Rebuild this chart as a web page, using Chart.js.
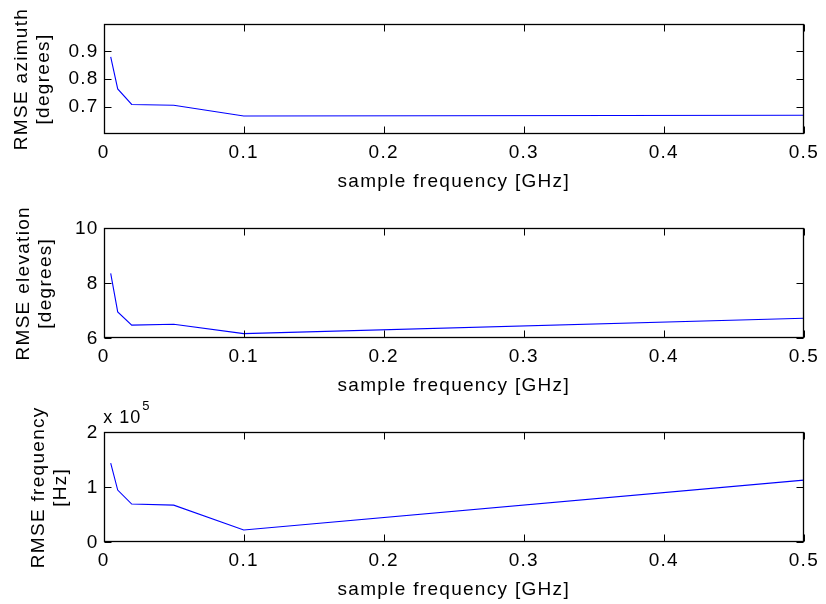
<!DOCTYPE html>
<html><head><meta charset="utf-8">
<script src="https://cdn.jsdelivr.net/npm/chart.js@4.4.0/dist/chart.umd.min.js"></script>
<style>
html,body{margin:0;padding:0;background:#fff;}
#wrap{position:relative;width:826px;height:604px;background:#fff;}
canvas{position:absolute;left:0;top:0;}
</style></head><body>
<div id="wrap">
<canvas id="c1" width="826" height="604"></canvas>
<canvas id="c2" width="826" height="604"></canvas>
<canvas id="c3" width="826" height="604"></canvas>
</div>
<script>
// ---- data ----
const sampleFreqGHz   = [0.005, 0.01, 0.02, 0.05, 0.1, 0.5];
const rmseAzimuthDeg  = [0.880, 0.764, 0.708, 0.705, 0.666, 0.669];
const rmseElevationDeg= [8.36, 6.96, 6.48, 6.51, 6.17, 6.73];
const rmseFrequencyHz = [1.44e5, 0.95e5, 0.695e5, 0.676e5, 0.224e5, 1.13e5];
const xTickValues     = [0, 0.1, 0.2, 0.3, 0.4, 0.5];
const azTickValues    = [0.7, 0.8, 0.9];
const elTickValues    = [6, 8, 10];
const frTickValues    = [0, 1e5, 2e5];
const xTitle          = 'sample frequency [GHz]';
const azTitle         = ['RMSE azimuth', '[degrees]'];
const elTitle         = ['RMSE elevation', '[degrees]'];
const frTitle         = ['RMSE frequency', '[Hz]'];

const FONT = "'Liberation Sans', Arial, Helvetica, sans-serif";
const LS = '1.3px';

const spacingPlugin = {
  id: 'spacing',
  beforeUpdate(c){ c.ctx.letterSpacing = LS; },
  beforeLayout(c){ c.ctx.letterSpacing = LS; },
  beforeDraw(c){ c.ctx.letterSpacing = LS; }
};

const boxPlugin = {
  id: 'box',
  afterDraw(c, args, opts){
    const ctx = c.ctx, a = c.chartArea;
    const L = Math.round(a.left)+0.5, R = Math.round(a.right)-0.5;
    const T = Math.round(a.top)+0.5, B = Math.round(a.bottom)-0.5;
    ctx.save();
    ctx.strokeStyle = '#000'; ctx.lineWidth = 1;
    ctx.beginPath();
    const xs = c.scales.x, ys = c.scales.y;
    xs.ticks.forEach(t => {
      const p = Math.round(xs.getPixelForValue(t.value))+0.5;
      ctx.moveTo(p, B); ctx.lineTo(p, B-7);
      ctx.moveTo(p, T); ctx.lineTo(p, T+7);
    });
    ys.ticks.forEach(t => {
      const p = Math.round(ys.getPixelForValue(t.value))+0.5;
      ctx.moveTo(L, p); ctx.lineTo(L+7, p);
      ctx.moveTo(R, p); ctx.lineTo(R-7, p);
    });
    ctx.stroke();
    ctx.lineWidth = 1.3;
    ctx.strokeRect(L, T, R-L, B-T);
    if (opts && opts.exponent) {
      ctx.fillStyle = '#000';
      ctx.letterSpacing = '1px';
      ctx.textBaseline = 'alphabetic';
      ctx.textAlign = 'left';
      ctx.font = '18px ' + FONT;
      const base = 'x 10';
      ctx.fillText(base, a.left - 0.5, a.top - 9);
      const w = ctx.measureText(base).width;
      ctx.font = '13px ' + FONT;
      ctx.fillText(opts.exponent, a.left - 0.5 + w + 1, a.top - 22);
    }
    ctx.restore();
  }
};

function makeChart(id, values, yMin, yMax, yTicks, yTitle, plotTop, plotBottom, yTitlePad, fmt, exponent){
  const X_H = 65;
  return new Chart(document.getElementById(id), {
    type: 'line',
    data: {
      datasets: [{
        data: sampleFreqGHz.map((x, i) => ({x, y: values[i]})),
        borderColor: '#0000ff',
        borderWidth: 1.1,
        pointRadius: 0,
        tension: 0,
        fill: false
      }]
    },
    options: {
      responsive: false,
      animation: false,
      devicePixelRatio: 1,
      layout: { padding: { top: plotTop, left: 0, right: 826 - 807.7, bottom: 604 - plotBottom - X_H } },
      plugins: { legend: { display: false }, tooltip: { enabled: false }, box: { exponent } },
      scales: {
        x: {
          type: 'linear', min: 0, max: 0.5,
          grid: { display: false, drawTicks: false }, border: { display: false },
          afterBuildTicks: s => { s.ticks = xTickValues.map(v => ({ value: v })); },
          afterFit: s => { s.height = X_H; },
          ticks: {
            autoSkip: false, maxRotation: 0, padding: 7, color: '#000',
            font: { family: FONT, size: 19, lineHeight: 1.2 },
            callback: v => String(Number(v.toFixed(2)))
          },
          title: {
            display: true, text: xTitle, color: '#000',
            font: { family: FONT, size: 19, lineHeight: 1.15 },
            padding: { top: 0, bottom: 6.7 }
          }
        },
        y: {
          type: 'linear', min: yMin, max: yMax,
          grid: { display: false, drawTicks: false }, border: { display: false },
          afterBuildTicks: s => { s.ticks = yTicks.map(v => ({ value: v })); },
          afterFit: s => { s.width = 103.7; },
          ticks: {
            autoSkip: false, padding: 5, color: '#000',
            font: { family: FONT, size: 19, lineHeight: 1.2 },
            callback: fmt
          },
          title: {
            display: true, text: yTitle, color: '#000',
            font: { family: FONT, size: 19, lineHeight: 1.15 },
            padding: { top: yTitlePad, bottom: 0 }
          }
        }
      }
    },
    plugins: [spacingPlugin, boxPlugin]
  });
}

makeChart('c1', rmseAzimuthDeg, 0.6, 1.0, azTickValues, azTitle, 23.7, 134.3, 10.8,
  v => String(Number(v.toFixed(2))));
makeChart('c2', rmseElevationDeg, 6, 10, elTickValues, elTitle, 228.3, 338.3, 13,
  v => String(Number(v.toFixed(2))));
makeChart('c3', rmseFrequencyHz, 0, 2e5, frTickValues, frTitle, 432.3, 542.3, 27.5,
  v => String(Number((v / 1e5).toFixed(2))), '5');
</script>
</body></html>
